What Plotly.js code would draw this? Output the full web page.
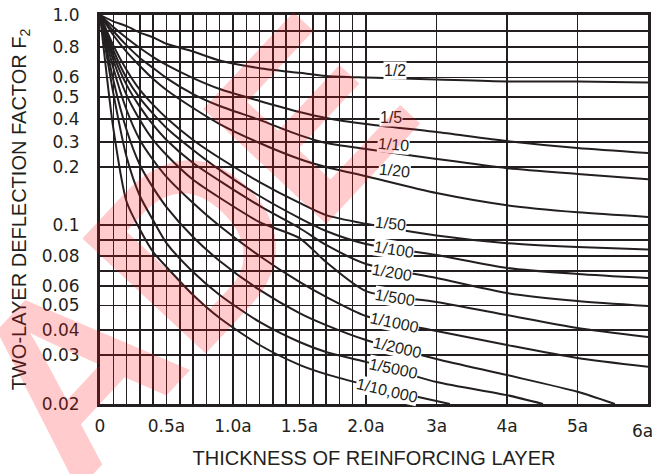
<!DOCTYPE html>
<html><head><meta charset="utf-8">
<script src="https://cdn.plot.ly/plotly-3.0.1.min.js"></script>
<style>html,body{margin:0;padding:0;background:#fff;}#chart{width:655px;height:474px;}</style>
</head><body><div id="chart"></div>
<script>
// ---------------- data (thickness in multiples of a, F2 values) ----------------
const ratioLabels = ['1/2','1/5','1/10','1/20','1/50','1/100','1/200','1/500','1/1000','1/2000','1/5000','1/10,000'];
const thickness = [0,0.1,0.2,0.3,0.4,0.5,0.7,0.9,1.2,1.5,1.7,2,3,4,5,6];
const f2_r2     = [1.0,0.96,0.93,0.89,0.86,0.82,0.77,0.71,0.66,0.63,0.61,0.60,0.59,0.58,0.58,0.575];
const f2_r5     = [1.0,0.925,0.856,0.793,0.733,0.681,0.597,0.541,0.482,0.432,0.405,0.378,0.343,0.304,0.276,0.256];
const f2_r10    = [1.0,0.90,0.81,0.727,0.661,0.597,0.515,0.459,0.396,0.33,0.296,0.272,0.232,0.198,0.188,0.179];
const f2_r20    = [1.0,0.875,0.767,0.674,0.592,0.536,0.45,0.378,0.296,0.232,0.20,0.184,0.155,0.134,0.122,0.114];
const f2_r50    = [1.0,0.81,0.648,0.536,0.464,0.405,0.309,0.236,0.174,0.138,0.117,0.102,0.093,0.088,0.0856,0.084];
const f2_r100   = [1.0,0.78,0.597,0.495,0.423,0.361,0.268,0.195,0.15,0.112,0.096,0.0875,0.0806,0.072,0.068,0.0653];
const f2_r200   = [1.0,0.747,0.562,0.455,0.374,0.309,0.216,0.176,0.133,0.098,0.0869,0.0747,0.0653,0.0564,0.0523,0.0498];
const f2_r500   = [1.0,0.713,0.51,0.396,0.309,0.248,0.178,0.147,0.105,0.0913,0.076,0.0574,0.0518,0.0461,0.0408,0.0372];
const f2_r1000  = [1.0,0.661,0.441,0.309,0.228,0.183,0.138,0.0993,0.08,0.0627,0.0544,0.0457,0.0396,0.034,0.0294,0.0276];
const thickness_r2000 = [0,0.1,0.2,0.3,0.4,0.5,0.7,0.9,1.2,1.5,1.7,2,3,4,5,5.53];
const f2_r2000  = [1.0,0.587,0.352,0.208,0.164,0.131,0.092,0.0767,0.058,0.0469,0.042,0.036,0.0292,0.0259,0.0225,0.02];
const thickness_r5000 = [0,0.1,0.2,0.3,0.4,0.5,0.7,0.9,1.2,1.5,1.7,2,3,4,4.51];
const f2_r5000  = [1.0,0.52,0.24,0.15,0.108,0.0881,0.0693,0.0554,0.0433,0.0352,0.0312,0.0286,0.0245,0.0218,0.02];
const thickness_r10000 = [0,0.1,0.2,0.3,0.4,0.5,0.7,0.9,1.2,1.5,1.7,2,2.5,3.19];
const f2_r10000 = [1.0,0.36,0.14,0.097,0.0825,0.0727,0.0554,0.0449,0.034,0.028,0.0261,0.0239,0.0222,0.02];

const seriesX = [thickness,thickness,thickness,thickness,thickness,thickness,thickness,thickness,thickness,thickness_r2000,thickness_r5000,thickness_r10000];
const seriesY = [f2_r2,f2_r5,f2_r10,f2_r20,f2_r50,f2_r100,f2_r200,f2_r500,f2_r1000,f2_r2000,f2_r5000,f2_r10000];

// tick labels
const xTickVals = [0,0.5,1.0,1.5,2.0,3,4,5,6];
const xTickText = ['0','0.5a','1.0a','1.5a','2.0a','3a','4a','5a','6a'];
const yTickVals = [1.0,0.8,0.6,0.5,0.4,0.3,0.2,0.1,0.08,0.06,0.05,0.04,0.03,0.02];
const yTickText = ['1.0','0.8','0.6','0.5','0.4','0.3','0.2','0.1','0.08','0.06','0.05','0.04','0.03','0.02'];
const watermarkText = 'ADE';

// ---------------- chart scale (non-uniform, as in the printed chart) ----------------
const X_STOPS = [0, 2, 6];
const X_POS   = [100, 366, 648];
const Y_STOPS = [1.0,0.9,0.8,0.7,0.6,0.5,0.4,0.3,0.2,0.1,0.09,0.08,0.07,0.06,0.05,0.04,0.03,0.02];
const Y_POS   = [15,31,47,62,77.5,97,119,142,167,225,240,256,271,286,305.5,330,355,404];
function interp(v, stops, pos){
  const n = stops.length;
  const inc = stops[n-1] > stops[0];
  for (let i=0;i<n-1;i++){
    const a=stops[i], b=stops[i+1];
    const inside = inc ? (v<=b || i===n-2) : (v>=b || i===n-2);
    if (inside){ return pos[i] + (v-a)/(b-a)*(pos[i+1]-pos[i]); }
  }
  return pos[n-1];
}
const xScale = v => interp(v, X_STOPS, X_POS);
const yScale = v => interp(v, Y_STOPS, Y_POS);

// grid lines
const xGrid = [];
for (let i=0;i<=20;i++) xGrid.push(i/10);
xGrid.push(3,4,5,6);
const yGrid = Y_STOPS.slice();

const INK = '#231f20';
const traces = seriesY.map((ys,k)=>({
  type:'scatter', mode:'lines', name: ratioLabels[k],
  x: seriesX[k].map(xScale), y: ys.map(yScale),
  customdata: seriesX[k].map((t,i)=>[t, ys[i]]),
  hovertemplate: ratioLabels[k]+'<br>h=%{customdata[0]}a<br>F2=%{customdata[1]}<extra></extra>',
  line:{color:INK, width:2, shape:'spline', smoothing:0.7},
  showlegend:false
}));

// curve labels (positions in the chart's own axis units)
const LABEL_POS = [[395,70,0],[391,117,0],[393,144,5],[394,170,6],[390,223,6],[394,249,9],[392,272,10],
  [395,297,9],[394,322,12],[397,347,13],[393,368,12],[387,390,13]];
const annotations = ratioLabels.map((t,k)=>({
  x: LABEL_POS[k][0], y: LABEL_POS[k][1], xref:'x', yref:'y', text:t, showarrow:false,
  textangle: LABEL_POS[k][2], bgcolor:'#ffffff', borderpad:0,
  font:{family:'Liberation Sans, Arial, sans-serif', size:16, color:INK}
}));
// last x tick label sits at the very edge of the figure
annotations.push({x:1.0128, y:-0.069, xref:'paper', yref:'paper', xanchor:'right', yanchor:'middle',
  text: xTickText[xTickText.length-1], showarrow:false,
  font:{family:'DejaVu Sans, sans-serif', size:17, color:INK}});
// translucent diagonal watermark
annotations.push({x:0.1606, y:0.40, xref:'paper', yref:'paper', xanchor:'center', yanchor:'middle',
  text:'<b>'+watermarkText+'</b>', showarrow:false, textangle:-47,
  font:{family:'Liberation Sans, Arial, sans-serif', size:245, color:'rgba(255,10,20,0.21)'}});

const layout = {
  width:655, height:474,
  margin:{l:100, r:7, t:15, b:70},
  paper_bgcolor:'#ffffff', plot_bgcolor:'#ffffff',
  xaxis:{
    range:[100,648], tickmode:'array',
    tickvals: xGrid.map(xScale),
    ticktext: xGrid.map(v=>{ if (v===6) return ''; const j=xTickVals.findIndex(t=>Math.abs(t-v)<1e-9); return j>=0?xTickText[j]:'';}),
    showgrid:true, gridcolor:INK, gridwidth:1.5, zeroline:false,
    showline:true, linecolor:INK, linewidth:3, mirror:true, ticks:'',
    ticklabelstandoff:5,
    tickfont:{family:'DejaVu Sans, sans-serif', size:17, color:INK},
    title:{text:'THICKNESS OF REINFORCING LAYER', standoff:16,
      font:{family:'Liberation Sans, Arial, sans-serif', size:20, color:INK}},
    fixedrange:true
  },
  yaxis:{
    range:[404,15], tickmode:'array',
    tickvals: yGrid.map(yScale),
    ticktext: yGrid.map(v=>{const j=yTickVals.findIndex(t=>Math.abs(t-v)<1e-9); return j>=0?yTickText[j]:'';}),
    showgrid:true, gridcolor:INK, gridwidth:1.5, zeroline:false,
    showline:true, linecolor:INK, linewidth:3, mirror:true, ticks:'',
    ticklabelstandoff:14,
    tickfont:{family:'DejaVu Sans, sans-serif', size:17, color:INK},
    title:{text:'TWO-LAYER DEFLECTION FACTOR F<sub>2</sub>', standoff:10,
      font:{family:'Liberation Sans, Arial, sans-serif', size:20, color:INK}},
    fixedrange:true
  },
  annotations: annotations,
  showlegend:false
};
Plotly.newPlot('chart', traces, layout, {staticPlot:true});
</script></body></html>
